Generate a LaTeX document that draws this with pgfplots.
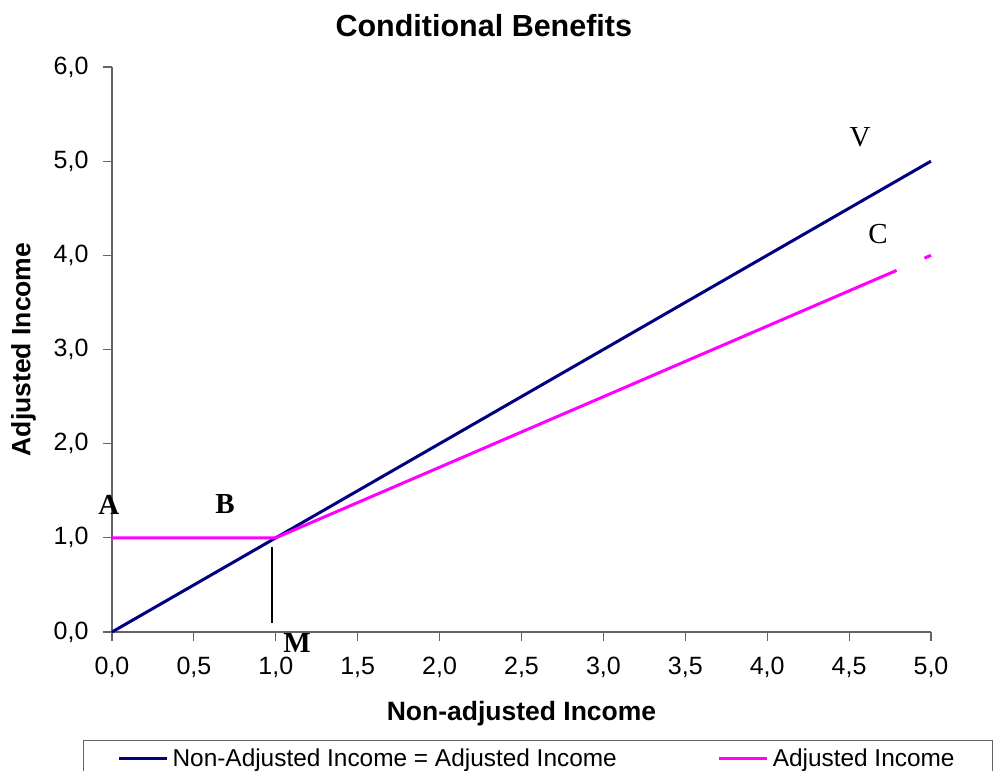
\documentclass[border=0pt]{standalone}
\usepackage{pgfplots}
\pgfplotsset{compat=1.18}
\usepackage{fontspec}
\setmainfont{Liberation Sans}
\newfontfamily\serifletters{Liberation Serif}
\definecolor{navyline}{RGB}{0,0,128}
\definecolor{magline}{RGB}{255,0,255}
\definecolor{axgray}{RGB}{100,100,100}
\begin{document}
\begin{tikzpicture}
\begin{axis}[
  at={(0,0)}, anchor=south west,
  scale only axis, width=819pt, height=565pt,
  xmin=0, xmax=5, ymin=0, ymax=6,
  clip=false,
  axis x line*=bottom, axis y line*=left,
  axis line style={-, draw=axgray, line width=1.2pt},
  xtick={0,0.5,1,1.5,2,2.5,3,3.5,4,4.5,5},
  ytick={0,1,2,3,4,5,6},
  tick align=outside, major tick length=9pt,
  tick style={draw=axgray, line width=1.2pt},
  /pgf/number format/use comma,
  /pgf/number format/fixed,
  /pgf/number format/fixed zerofill,
  /pgf/number format/precision=1,
  /pgf/number format/assume math mode=true,
  ticklabel style={font=\fontsize{25}{30}\selectfont},
  xticklabel style={yshift=-13pt},
  yticklabel style={xshift=-11pt},
  title={Conditional Benefits},
  title style={font=\fontsize{30.5}{34}\selectfont\bfseries, at={(axis description cs:0.454,1)}, anchor=center, yshift=35pt},
  xlabel={Non-adjusted Income},
  xlabel style={font=\fontsize{26.5}{30}\selectfont\bfseries, at={(axis description cs:0.5,0)}, anchor=center, yshift=-82pt},
  ylabel={Adjusted Income},
  ylabel style={font=\fontsize{26.5}{30}\selectfont\bfseries, at={(axis description cs:-0.108,0.5)}, anchor=center},
  legend columns=2,
  legend image code/.code={\draw[#1] (0pt,0pt) -- (48pt,0pt);},
  legend style={at={(axis description cs:-0.0354,-0.191)}, anchor=north west,
    draw=axgray, line width=1.2pt, inner xsep=34pt, inner ysep=6pt,
    font=\fontsize{24.4}{28}\selectfont,
    nodes={inner xsep=4pt},
    /tikz/every even column/.append style={column sep=97pt}},
]
\addplot[navyline, line width=3pt] coordinates {(0,0) (5,5)};
\addlegendentry{Non-Adjusted Income = Adjusted Income}
\addplot[magline, line width=3pt] coordinates {(0,1) (1,1) (4.79,3.84)};
\addlegendentry{Adjusted Income}
\addplot[magline, line width=3pt, forget plot] coordinates {(4.96,3.97) (5,4)};
\addplot[black, line width=2pt, forget plot] coordinates {(0.975,0.096) (0.975,0.903)};
\node[font=\serifletters\bfseries\fontsize{29}{32}\selectfont] at (axis cs:-0.02,1.35) {A};
\node[font=\serifletters\bfseries\fontsize{29}{32}\selectfont] at (axis cs:0.69,1.36) {B};
\node[font=\serifletters\bfseries\fontsize{29}{32}\selectfont] at (axis cs:1.13,-0.117) {M};
\node[font=\serifletters\fontsize{29}{32}\selectfont] at (axis cs:4.567,5.25) {V};
\node[font=\serifletters\fontsize{29}{32}\selectfont] at (axis cs:4.676,4.226) {C};
\end{axis}
\pgfresetboundingbox
\path[use as bounding box] (-112pt,-139pt) rectangle (884pt,632pt);
\end{tikzpicture}
\end{document}
